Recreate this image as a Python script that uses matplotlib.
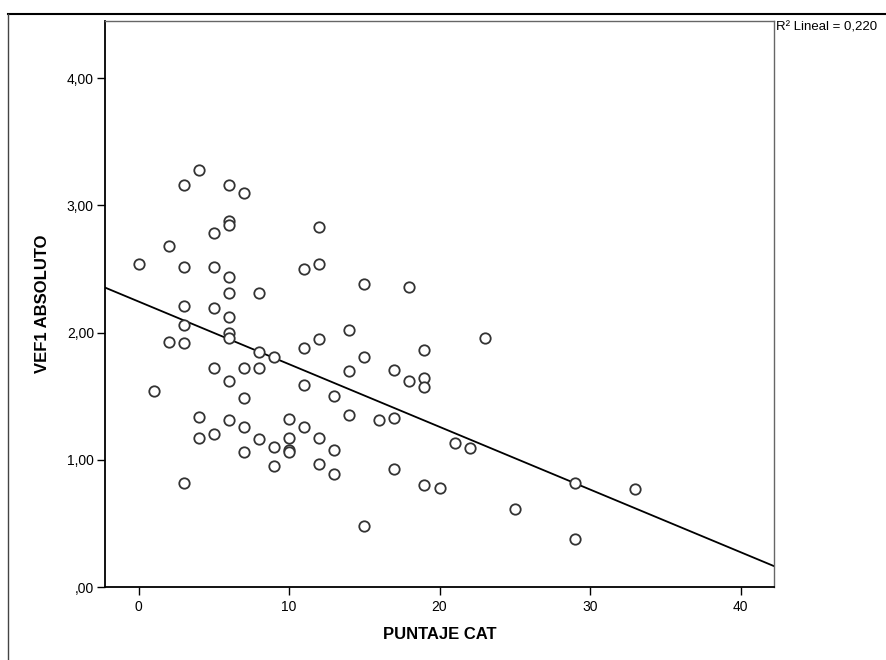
import numpy as np
import matplotlib
matplotlib.use("Agg")
import matplotlib.pyplot as plt
from matplotlib.lines import Line2D
from matplotlib.ticker import FuncFormatter

plt.rcParams['font.family'] = ['Liberation Sans', 'DejaVu Sans']

# PUNTAJE CAT (x) and VEF1 ABSOLUTO (y)
puntaje_cat = [0, 1, 2, 2,
               3, 3, 3, 3, 3, 3,
               4, 4, 4,
               5, 5, 5, 5, 5,
               6, 6, 6, 6, 6, 6, 6, 6, 6, 6,
               7, 7, 7, 7, 7,
               8, 8, 8, 8,
               9, 9, 9,
               10, 10, 10, 10,
               11, 11, 11, 11,
               12, 12, 12, 12, 12,
               13, 13, 13,
               14, 14, 14,
               15, 15, 15,
               16,
               17, 17, 17,
               18, 18,
               19, 19, 19, 19,
               20, 21, 22, 23, 25, 29, 29, 33]
vef1_absoluto = [2.54, 1.54, 2.68, 1.93,
                 3.16, 2.52, 2.21, 2.06, 1.92, 0.82,
                 3.28, 1.34, 1.17,
                 2.78, 2.52, 2.19, 1.72, 1.20,
                 3.16, 2.88, 2.85, 2.44, 2.31, 2.12, 2.00, 1.96, 1.62, 1.31,
                 3.10, 1.72, 1.49, 1.26, 1.06,
                 2.31, 1.85, 1.72, 1.16,
                 1.81, 1.10, 0.95,
                 1.32, 1.17, 1.08, 1.06,
                 2.50, 1.88, 1.59, 1.26,
                 2.83, 2.54, 1.95, 1.17, 0.97,
                 1.50, 1.08, 0.89,
                 2.02, 1.70, 1.35,
                 2.38, 1.81, 0.48,
                 1.31,
                 1.71, 1.33, 0.93,
                 2.36, 1.62,
                 1.86, 1.64, 1.57, 0.80,
                 0.78, 1.13, 1.09, 1.96, 0.61, 0.82, 0.38, 0.77]
x_ticks = [0, 10, 20, 30, 40]
y_ticks = [0, 1, 2, 3, 4]
r2_label = "R\u00b2 Lineal = 0,220"

x = np.array(puntaje_cat, dtype=float)
y = np.array(vef1_absoluto)

fig = plt.figure(figsize=(8.86, 6.6), dpi=100)
ax = fig.add_axes([0.1185, 0.1106, 0.7555, 0.8575])

ax.plot(x, y, linestyle='none', marker='o', ms=7.5, mfc='white',
        mec='#333333', mew=1.3, zorder=3)

# linear fit line across the whole x range
slope, intercept = np.polyfit(x, y, 1)
xmin, xmax = -2.23, 42.25
xs = np.array([xmin, xmax])
ax.plot(xs, intercept + slope * xs, color='black', lw=1.3, zorder=2)

ax.set_xlim(xmin, xmax)
ax.set_ylim(0, 4.45)
ax.set_xticks(x_ticks)
ax.set_yticks(y_ticks)
ax.yaxis.set_major_formatter(FuncFormatter(lambda v, p: f"{v:.2f}".replace('.', ',').lstrip('0')))
ax.tick_params(direction='out', length=6, width=1, labelsize=10, colors='black')
ax.tick_params(axis='x', pad=3)
ax.tick_params(axis='y', pad=2)

for s in ['left', 'bottom']:
    ax.spines[s].set_color('black')
    ax.spines[s].set_linewidth(1.3)
for s in ['top', 'right']:
    ax.spines[s].set_color('#666666')
    ax.spines[s].set_linewidth(1.0)

ax.set_xlabel('PUNTAJE CAT', fontsize=12, fontweight='bold', labelpad=10)
ax.set_ylabel('VEF1 ABSOLUTO', fontsize=12, fontweight='bold', labelpad=12)

fig.text(776 / 886, 1 - 21 / 660, r2_label, fontsize=9.5, ha='left', va='top')

# outer frame of the scanned page
fig.add_artist(Line2D([8 / 886, 1], [1 - 14 / 660, 1 - 14 / 660], color='black', lw=1.5))
fig.add_artist(Line2D([8 / 886, 8 / 886], [0, 1 - 14 / 660], color='#444444', lw=1.0))

fig.savefig('out.png', dpi=100, facecolor='white')
